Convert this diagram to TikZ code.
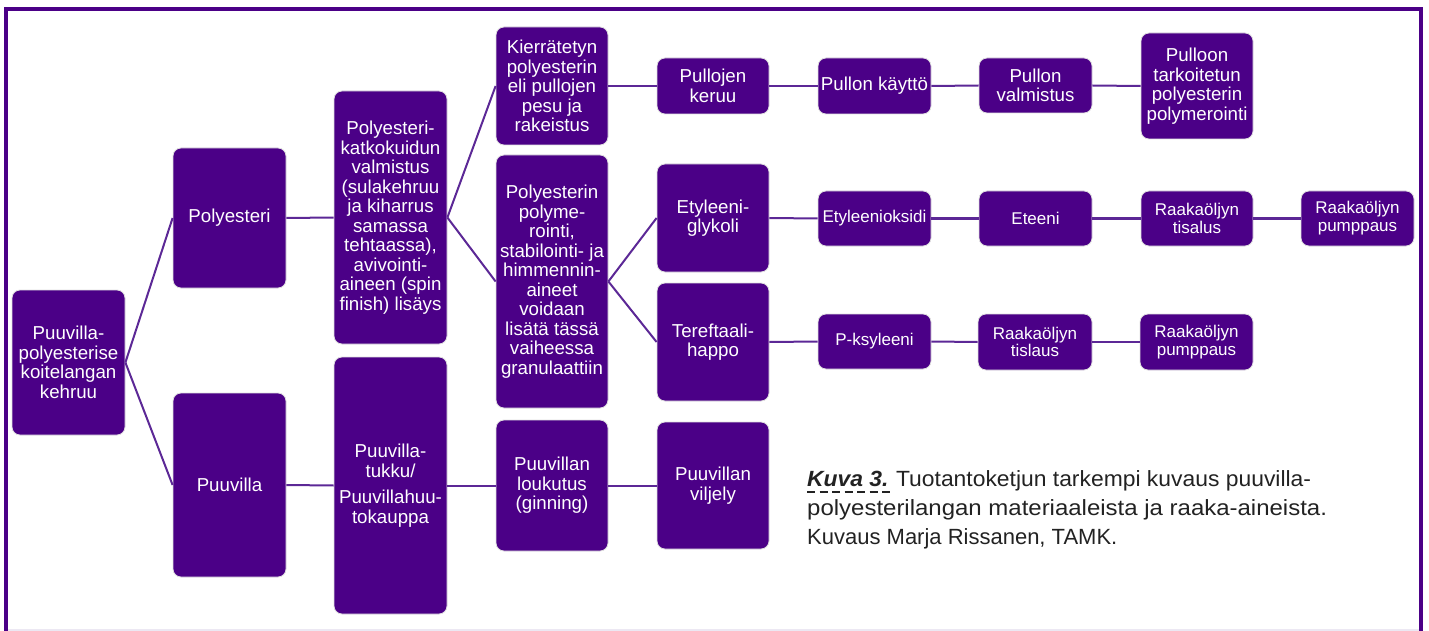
\documentclass[tikz,border=0pt]{standalone}
\usepackage{fontspec}
\setmainfont{Liberation Sans}
\newfontfamily\capfonta[FakeStretch=1.04]{Liberation Sans}
\newfontfamily\capfontb[FakeStretch=1.09]{Liberation Sans}
\newfontfamily\capfontc[FakeStretch=1.0]{Liberation Sans}
\definecolor{boxc}{RGB}{75,0,135}
\definecolor{linec}{RGB}{92,40,150}
\definecolor{capc}{RGB}{34,34,34}
\definecolor{edgec}{RGB}{236,232,243}
\begin{document}
\begin{tikzpicture}[x=1pt,y=-1pt,
  bx/.style={rectangle, rounded corners=8pt, fill=boxc, draw=white!88!black, line width=0.8pt,
    text=white, align=center, inner sep=0pt, font=\fontsize{18.7}{19.5}\selectfont},
  sm/.style={font=\fontsize{17}{17.8}\selectfont},
  sz/.style 2 args={minimum width=#1pt, minimum height=#2pt},
  conn/.style={draw=linec, line width=2pt},
  captext/.style={anchor=base west, inner sep=0pt, text=capc}]
\useasboundingbox (0,0) rectangle (1429,631);
% frame
\draw[edgec, line width=1.5pt] (6,630) -- (1421,630);
\draw[boxc, line width=4pt] (6,631) -- (6,9) -- (1421,9) -- (1421,631);
% column 1-3
\node[bx, sz={113}{145}] (b1) at (68.5,362.5) {Puuvilla-\\polyesterise\\koitelangan\\kehruu};
\node[bx, sz={113}{140}] (b2) at (229.5,218) {Polyesteri};
\node[bx, sz={113}{184}] (b3) at (229.5,485) {Puuvilla};
\node[bx, sz={113}{253}] (b4) at (390.5,217.5) {Polyesteri-\\katkokuidun\\valmistus\\(sulakehruu\\ja kiharrus\\samassa\\tehtaassa),\\avivointi-\\aineen (spin\\finish) lisäys};
\node[bx, sz={113}{257}] (b5) at (390.5,485.5) {Puuvilla-\\tukku/\\[7pt]Puuvillahuu-\\tokauppa};
% column 4
\node[bx, sz={112}{118}] (b6) at (552,86) {Kierrätetyn\\polyesterin\\eli pullojen\\pesu ja\\rakeistus};
\node[bx, sz={112}{253}] (b7) at (552,281.5) {Polyesterin\\polyme-\\rointi,\\stabilointi- ja\\himmennin-\\aineet\\voidaan\\lisätä tässä\\vaiheessa\\granulaattiin};
\node[bx, sz={112}{131}] (b8) at (552,485.5) {Puuvillan\\loukutus\\(ginning)};
% column 5
\node[bx, sz={112}{56}] (b9) at (713,86) {Pullojen\\keruu};
\node[bx, sz={112}{108}] (b10) at (713,218) {Etyleeni-\\glykoli};
\node[bx, sz={112}{118}] (b11) at (713,342) {Tereftaali-\\happo};
\node[bx, sz={112}{127}] (b12) at (713,485.5) {Puuvillan\\viljely};
% column 6
\node[bx, sz={113}{56}] (b13) at (874.5,86) {Pullon käyttö};
\node[bx, sm, sz={113}{55}] (b14) at (874.5,218.5) {Etyleenioksidi};
\node[bx, sm, sz={113}{55}] (b15) at (874.5,341.5) {P-ksyleeni};
% column 7
\node[bx, sz={113}{55}] (b16) at (1035.5,85.5) {Pullon\\valmistus};
\node[bx, sm, sz={113}{55}] (b17) at (1035.5,218.5) {Eteeni};
\node[bx, sm, sz={114}{56}] (b18) at (1035,342) {Raakaöljyn\\tislaus};
% column 8
\node[bx, sz={112}{106}] (b19) at (1197,86) {Pulloon\\tarkoitetun\\polyesterin\\polymerointi};
\node[bx, sm, sz={112}{55}] (b20) at (1197,218.5) {Raakaöljyn\\tisalus};
\node[bx, sm, sz={113}{56}] (b21) at (1196.5,342) {Raakaöljyn\\pumppaus};
% column 9
\node[bx, sm, sz={113}{55}] (b22) at (1357.5,218.5) {Raakaöljyn\\pumppaus};
% connectors
\draw[conn] (b1.east) -- (b2.west);
\draw[conn] (b1.east) -- (b3.west);
\draw[conn] (b2.east) -- (b4.west);
\draw[conn] (b3.east) -- (b5.west);
\draw[conn] (b4.east) -- (b6.west);
\draw[conn] (b4.east) -- (b7.west);
\draw[conn] (b5.east) -- (b8.west);
\draw[conn] (b6.east) -- (b9.west);
\draw[conn] (b9.east) -- (b13.west);
\draw[conn] (b13.east) -- (b16.west);
\draw[conn] (b16.east) -- (b19.west);
\draw[conn] (b7.east) -- (b10.west);
\draw[conn] (b7.east) -- (b11.west);
\draw[conn] (b10.east) -- (b14.west);
\draw[conn] (b14.east) -- (b17.west);
\draw[conn] (b17.east) -- (b20.west);
\draw[conn] (b20.east) -- (b22.west);
\draw[conn] (b11.east) -- (b15.west);
\draw[conn] (b15.east) -- (b18.west);
\draw[conn] (b18.east) -- (b21.west);
\draw[conn] (b8.east) -- (b12.west);
% caption
\node[captext, font=\capfonta\fontsize{22}{26}\selectfont] (cap1) at (807,486) {\textbf{\textit{Kuva 3.}}\hspace{-1pt} Tuotantoketjun tarkempi kuvaus puuvilla-};
\node[captext, font=\capfontb\fontsize{22}{26}\selectfont] (cap2) at (807,515) {polyesterilangan materiaaleista ja raaka-aineista.};
\node[captext, font=\capfontc\fontsize{22}{26}\selectfont] (cap3) at (807,544) {Kuvaus Marja Rissanen, TAMK.};
\coordinate (ul1) at (807,492);
\coordinate (ul2) at (894,492);
\draw[capc, line width=1.6pt, dash pattern=on 8pt off 4.5pt] (ul1) -- (ul2);
\end{tikzpicture}
\end{document}
